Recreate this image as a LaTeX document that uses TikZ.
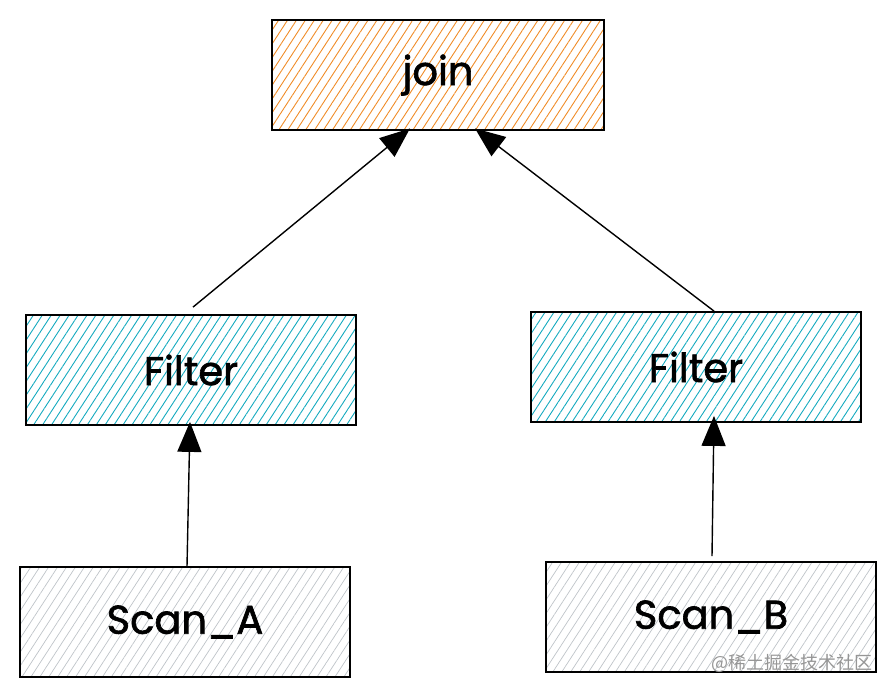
\documentclass[tikz,border=0pt]{standalone}
\usepackage{fontspec}
\setmainfont{Poppins}
\newfontfamily\handfont[FakeBold=1.6]{Poppins}
\newfontfamily\cjkfont{Noto Sans CJK SC}
\usetikzlibrary{arrows.meta,patterns.meta,calc}
\definecolor{hjoin}{RGB}{240,140,40}
\definecolor{hfilt}{RGB}{21,170,191}
\definecolor{hscan}{RGB}{190,195,200}
\definecolor{wmark}{RGB}{150,150,150}
\tikzset{
  sbox/.style={draw=black, line width=1.8pt, minimum width=330pt, minimum height=110pt,
    inner sep=0pt, font=\handfont\fontsize{40}{44}\selectfont, text=black},
  joinbox/.style={sbox, minimum width=332pt, pattern={Lines[angle=57,distance=7.5pt,line width=0.9pt]}, pattern color=hjoin},
  filtbox/.style={sbox, pattern={Lines[angle=57,distance=7.5pt,line width=0.9pt]}, pattern color=hfilt},
  scanbox/.style={sbox, pattern={Lines[angle=57,distance=7.5pt,line width=0.7pt]}, pattern color=hscan},
  conn/.style={draw=black, line width=1.4pt, -{Triangle[length=30pt,width=24pt]}},
}
\begin{document}
\begin{tikzpicture}[x=1pt,y=-1pt]
\useasboundingbox (0,0) rectangle (896,697);
\node[joinbox] (join) at (438,75) {join};
\node[filtbox] (fl) at (191,370) {Filter};
\node[filtbox] (fr) at (696,367) {Filter};
\node[scanbox] (sa) at (185,622) {Scan\_A};
\node[scanbox] (sb) at (711,617) {Scan\_B};
\node[font=\cjkfont\fontsize{18}{21}\selectfont, text=wmark, anchor=east] (wm) at (876,663) {@稀土掘金技术社区};
\draw[conn] ([xshift=2pt,yshift=7pt]fl.north) -- ([xshift=-28pt,yshift=2pt]join.south);
\draw[conn] ([xshift=18pt,yshift=0pt]fr.north) -- ([xshift=37pt,yshift=2pt]join.south);
\draw[conn] ([xshift=2pt]sa.north) -- ([xshift=-1pt,yshift=4pt]fl.south);
\draw[conn] ([xshift=1pt,yshift=5pt]sb.north) -- ([xshift=18pt,yshift=7pt]fr.south);
\end{tikzpicture}
\end{document}
